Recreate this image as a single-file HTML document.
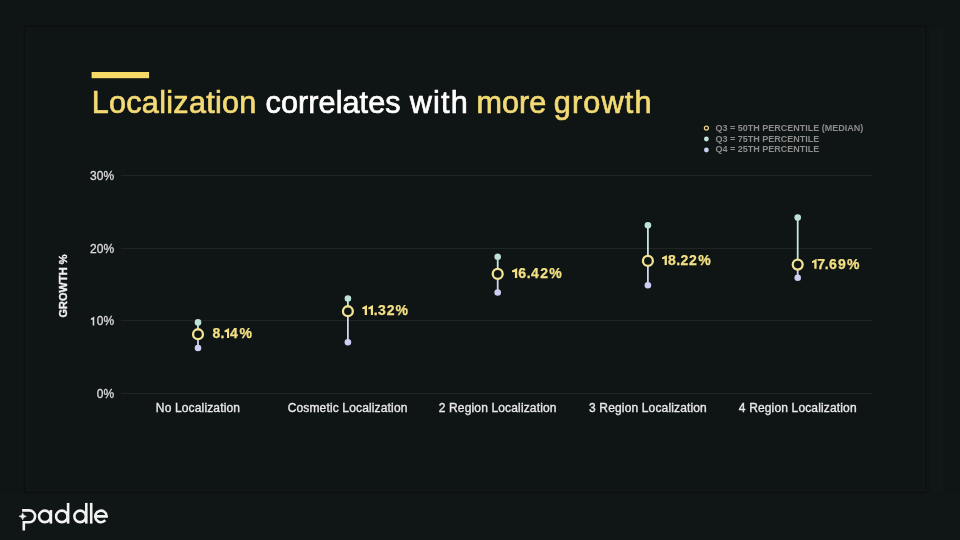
<!DOCTYPE html>
<html><head><meta charset="utf-8">
<style>
html,body{margin:0;padding:0;background:#0f1414;width:960px;height:540px;overflow:hidden}
svg{display:block;will-change:transform}
text{font-family:"Liberation Sans",sans-serif}
</style></head>
<body>
<svg width="960" height="540" viewBox="0 0 960 540">
<rect x="0" y="0" width="960" height="540" fill="#0f1414"/>
<rect x="0" y="493" width="960" height="47" fill="#101515"/>
<rect x="24.5" y="26.5" width="901.5" height="466" fill="#0f1414" stroke="#0b0f0f" stroke-width="1.2"/>
<rect x="27" y="29" width="896.5" height="461" fill="none" stroke="#121717" stroke-width="1.5"/>
<rect x="931" y="30" width="12" height="462" fill="#111616"/>

<!-- title -->
<rect x="91.6" y="72" width="57.5" height="6.2" fill="#f6d966"/>
<g font-size="30.6" stroke-width="0.7">
<text x="91.7" y="112.9" letter-spacing="0.28" fill="#f4da74" stroke="#f4da74">Localization</text>
<text x="265.6" y="112.9" letter-spacing="0.07" fill="#ffffff" stroke="#ffffff">correlates</text>
<text x="409.7" y="112.9" letter-spacing="1.2" fill="#ffffff" stroke="#ffffff">with</text>
<text x="476.5" y="112.9" letter-spacing="0" fill="#f4da74" stroke="#f4da74">more</text>
<text x="553.8" y="112.9" letter-spacing="1.18" fill="#f4da74" stroke="#f4da74">growth</text>
</g>

<!-- legend -->
<g font-size="9" font-weight="bold" fill="#8c8c8c">
<text x="715.6" y="131">Q3 = 50TH PERCENTILE (MEDIAN)</text>
<text x="715.6" y="141.7">Q3 = 75TH PERCENTILE</text>
<text x="715.6" y="152.3">Q4 = 25TH PERCENTILE</text>
</g>
<circle cx="706.4" cy="128" r="2" fill="none" stroke="#e8d282" stroke-width="1.25"/>
<circle cx="706.4" cy="139" r="2.4" fill="#c4e6dc"/>
<circle cx="706.4" cy="150" r="2.4" fill="#ccd0f0"/>

<!-- grid -->
<g fill="#202424">
<rect x="121" y="175" width="751" height="1"/>
<rect x="121" y="248" width="751" height="1"/>
<rect x="121" y="320" width="751" height="1"/>
<rect x="121" y="393" width="751" height="1"/>
</g>
<g font-size="12" fill="#dcdcdc" stroke="#dcdcdc" stroke-width="0.3" text-anchor="end" letter-spacing="0.2">
<text x="114.5" y="180.4">30%</text>
<text x="114.5" y="252.9">20%</text>
<text x="114.5" y="325.4">0%</text>
<text x="114.5" y="398">0%</text>
</g>
<path d="M94.25,316.6 L94.25,325.4 L92.7,325.4 L92.7,319.5 L90.9,319.9 L90.9,318.6 Z" fill="#dcdcdc"/>
<text transform="translate(66.8,286) rotate(-90)" font-size="11" font-weight="bold" fill="#f0f0f0" stroke="#f0f0f0" stroke-width="0.35" text-anchor="middle">GROWTH %</text>

<!-- x labels -->
<g font-size="12" fill="#e8e8e8" stroke="#e8e8e8" stroke-width="0.35" text-anchor="middle" letter-spacing="0.15">
<text x="198" y="411.8">No Localization</text>
<text x="347.6" y="411.8">Cosmetic Localization</text>
<text x="497.7" y="411.8">2 Region Localization</text>
<text x="648" y="411.8">3 Region Localization</text>
<text x="797.8" y="411.8">4 Region Localization</text>
</g>

<!-- data -->
<line x1="198.0" y1="322.4" x2="198.0" y2="334.2" stroke="#c4e6dc" stroke-width="1.8"/>
<line x1="198.0" y1="334.2" x2="198.0" y2="348.0" stroke="#d0d4f0" stroke-width="1.8"/>
<circle cx="198.0" cy="322.4" r="3.3" fill="#bde3d8"/>
<circle cx="198.0" cy="348.0" r="3.3" fill="#cbcff4"/>
<circle cx="198.0" cy="334.2" r="4.95" fill="#0f1414" stroke="#f1e394" stroke-width="2.3"/>
<line x1="347.9" y1="298.5" x2="347.9" y2="311.2" stroke="#c4e6dc" stroke-width="1.8"/>
<line x1="347.9" y1="311.2" x2="347.9" y2="342.2" stroke="#d0d4f0" stroke-width="1.8"/>
<circle cx="347.9" cy="298.5" r="3.3" fill="#bde3d8"/>
<circle cx="347.9" cy="342.2" r="3.3" fill="#cbcff4"/>
<circle cx="347.9" cy="311.2" r="4.95" fill="#0f1414" stroke="#f1e394" stroke-width="2.3"/>
<line x1="497.7" y1="256.8" x2="497.7" y2="273.9" stroke="#c4e6dc" stroke-width="1.8"/>
<line x1="497.7" y1="273.9" x2="497.7" y2="292.5" stroke="#d0d4f0" stroke-width="1.8"/>
<circle cx="497.7" cy="256.8" r="3.3" fill="#bde3d8"/>
<circle cx="497.7" cy="292.5" r="3.3" fill="#cbcff4"/>
<circle cx="497.7" cy="273.9" r="4.95" fill="#0f1414" stroke="#f1e394" stroke-width="2.3"/>
<line x1="647.9" y1="225.3" x2="647.9" y2="260.9" stroke="#c4e6dc" stroke-width="1.8"/>
<line x1="647.9" y1="260.9" x2="647.9" y2="285.3" stroke="#d0d4f0" stroke-width="1.8"/>
<circle cx="647.9" cy="225.3" r="3.3" fill="#bde3d8"/>
<circle cx="647.9" cy="285.3" r="3.3" fill="#cbcff4"/>
<circle cx="647.9" cy="260.9" r="4.95" fill="#0f1414" stroke="#f1e394" stroke-width="2.3"/>
<line x1="797.7" y1="217.6" x2="797.7" y2="264.6" stroke="#c4e6dc" stroke-width="1.8"/>
<line x1="797.7" y1="264.6" x2="797.7" y2="277.8" stroke="#d0d4f0" stroke-width="1.8"/>
<circle cx="797.7" cy="217.6" r="3.3" fill="#bde3d8"/>
<circle cx="797.7" cy="277.8" r="3.3" fill="#cbcff4"/>
<circle cx="797.7" cy="264.6" r="4.95" fill="#0f1414" stroke="#f1e394" stroke-width="2.3"/>

<g font-size="14" font-weight="bold" fill="#f4e084" stroke="#f4e084" stroke-width="0.25">
<text x="212.45 220.6 229.9 239.4" y="338.1">8.4%</text>
<text x="373.7 378.1 386.75 395.45" y="315.1">.32%</text>
<text x="518.15 526.85 531.05 540.25 549.35" y="278.1">6.42%</text>
<text x="667.9 676.3 680.5 689.1 698.35" y="265.0">8.22%</text>
<text x="817.3 824.75 829.05 837.95 847.1" y="268.8">7.69%</text>
</g>
<path d="M229.1,328 L229.1,338.1 L227,338.1 L227,331.9 L224.5,332.3 L224.5,330.6 Z M367,305 L367,315.1 L364.7,315.1 L364.7,308.9 L362.3,309.3 L362.3,307.6 Z M373,305 L373,315.1 L370.8,315.1 L370.8,308.9 L368.3,309.3 L368.3,307.6 Z M517.2,268 L517.2,278.1 L514.9,278.1 L514.9,271.9 L512,272.3 L512,270.6 Z M666.9,254.9 L666.9,265 L664.6,265 L664.6,258.8 L662,259.2 L662,257.5 Z M816.6,258.7 L816.6,268.8 L814.3,268.8 L814.3,262.6 L812,263.0 L812,261.3 Z" fill="#f4e084"/>

<!-- logo -->
<g fill="none" stroke="#f2f2f2" stroke-width="2.6">
<path d="M22.1,510.4 H29.2 A5.95,5.95 0 0 1 29.2,522.3 H23.8 V530.4"/>
<circle cx="44.8" cy="516.4" r="5.75"/>
<path d="M50.9,510 V523.6"/>
<circle cx="61.8" cy="516.4" r="5.75"/>
<path d="M68.1,502.9 V523.6"/>
<circle cx="80.1" cy="516.4" r="5.75"/>
<path d="M86.3,502.9 V523.6"/>
<path d="M91.2,502.9 V523.6"/>
<path d="M95.2,516.4 H106.7 A5.75,5.75 0 1 0 105.3,520.2"/>
</g>
<path d="M22.7,512.7 Q23.2,515.8 26.5,516.3 Q23.2,516.8 22.7,519.9 Q22.2,516.8 18.9,516.3 Q22.2,515.8 22.7,512.7 Z" fill="#f2f2f2" stroke="#f2f2f2" stroke-width="0.5"/>
</svg>
</body></html>
